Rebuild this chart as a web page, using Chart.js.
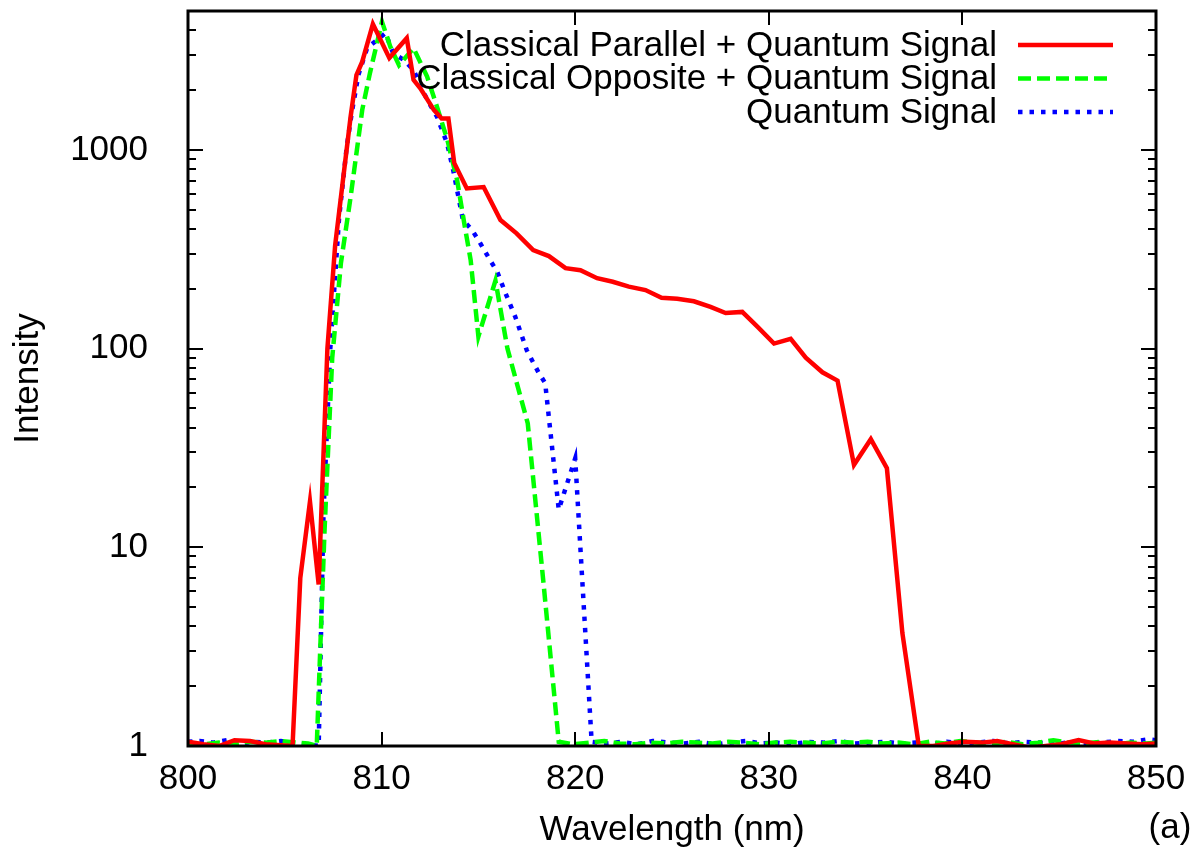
<!DOCTYPE html>
<html>
<head>
<meta charset="utf-8">
<script src="https://cdn.jsdelivr.net/npm/chart.js@4/dist/chart.umd.min.js"></script>
<style>
  html, body { margin: 0; padding: 0; background: #fff; }
  #wrap { width: 1202px; height: 851px; position: relative; }
</style>
</head>
<body>
<div id="wrap"><canvas id="spectrum"></canvas></div>
<script>
// Classical Parallel + Quantum Signal
const parallelNm = [800.0, 800.8, 801.6, 802.4, 803.2, 804.0, 804.8, 805.4, 805.8, 806.3, 806.75, 807.2, 807.6, 808.0, 808.4, 808.7, 809.0, 809.55, 810.4, 811.3, 811.65, 812.0, 812.7, 813.1, 813.45, 813.75, 814.4, 815.27, 816.14, 816.97, 817.83, 818.64, 819.5, 820.27, 821.13, 821.94, 822.77, 823.63, 824.46, 825.27, 826.13, 826.99, 827.77, 828.63, 829.41, 830.27, 831.13, 831.91, 832.77, 833.55, 834.4, 835.27, 836.1, 836.9, 837.75, 838.5, 839.3, 840.1, 841.0, 841.8, 842.6, 843.5, 844.3, 845.1, 846.0, 846.8, 847.6, 848.5, 849.3, 850.0];
const parallelI = [1.05, 1.02, 1.0, 1.07, 1.06, 1.02, 1.01, 1.0, 7, 17, 6.5, 100, 330, 700, 1470, 2380, 2780, 4300, 2900, 3650, 2250, 2040, 1590, 1440, 1440, 860, 640, 650, 444, 380, 313, 292, 254, 248, 226, 217, 205, 197, 180, 178, 173, 162, 151, 153, 129, 106, 112, 90, 76, 69, 26, 35, 25, 3.7, 1.0, 1.0, 1.03, 1.05, 1.04, 1.06, 1.02, 0.98, 1.0, 1.02, 1.07, 1.03, 1.04, 1.03, 1.02, 1.03];

// Classical Opposite + Quantum Signal
const oppositeNm = [800.0, 800.8, 801.6, 802.4, 803.2, 804.0, 804.8, 805.6, 806.2, 806.65, 807.05, 807.45, 807.9, 808.4, 809.0, 809.4, 810.02, 810.45, 810.9, 811.65, 812.35, 812.86, 813.4, 813.9, 814.3, 814.6, 815.0, 815.88, 816.5, 817.55, 818.35, 819.15, 819.9, 820.7, 821.5, 822.3, 823.1, 823.9, 824.7, 825.5, 826.3, 827.1, 827.9, 828.7, 829.5, 830.3, 831.1, 831.9, 832.7, 833.5, 834.3, 835.1, 835.9, 836.7, 837.5, 838.3, 839.1, 839.9, 840.7, 841.5, 842.3, 843.1, 843.9, 844.7, 845.5, 846.3, 847.1, 847.9, 848.7, 849.5, 850.0];
const oppositeI = [1.03, 1.02, 1.04, 1.03, 1.05, 1.04, 1.06, 1.04, 1.03, 1.0, 12, 90, 270, 580, 1590, 2440, 4420, 3310, 2670, 3250, 2340, 1650, 1120, 705, 410, 279, 115, 220, 100, 42, 6.8, 1.05, 1.02, 1.04, 1.06, 1.03, 1.02, 1.04, 1.03, 1.05, 1.04, 1.03, 1.05, 1.04, 1.02, 1.04, 1.05, 1.04, 1.03, 1.05, 1.04, 1.05, 1.03, 1.04, 1.02, 1.05, 1.03, 1.06, 1.04, 1.03, 1.05, 1.02, 1.04, 1.07, 1.04, 1.03, 1.05, 1.02, 1.04, 1.03, 1.04];

// Quantum Signal
const quantumNm = [800.0, 800.6, 801.3, 802.0, 802.7, 803.4, 804.1, 804.8, 805.5, 806.2, 806.75, 807.0, 807.35, 807.8, 808.2, 808.47, 808.8, 809.25, 809.76, 810.2, 810.6, 811.14, 811.65, 812.35, 812.86, 813.38, 813.7, 814.2, 814.67, 815.0, 815.6, 815.97, 816.4, 816.9, 817.5, 818.1, 818.45, 819.15, 820.0, 820.85, 821.6, 822.4, 823.2, 824.0, 824.8, 825.6, 826.4, 827.2, 828.0, 828.8, 829.6, 830.4, 831.2, 832.0, 832.8, 833.6, 834.4, 835.2, 836.0, 836.8, 837.6, 838.4, 839.2, 840.0, 840.8, 841.6, 842.4, 843.2, 844.0, 844.8, 845.6, 846.4, 847.2, 848.0, 848.8, 849.6, 850.0];
const quantumI = [1.05, 1.06, 1.04, 1.07, 1.03, 1.05, 1.04, 1.06, 1.03, 1.02, 1.0, 15, 100, 450, 1040, 1560, 2380, 3250, 3570, 3870, 3060, 2840, 2520, 1790, 1470, 1080, 790, 444, 395, 352, 279, 244, 190, 145, 98, 76, 67, 15.5, 28, 1.05, 1.03, 1.05, 1.02, 1.06, 1.04, 1.03, 1.05, 1.02, 1.04, 1.06, 1.03, 1.04, 1.02, 1.05, 1.04, 1.06, 1.03, 1.04, 1.05, 1.03, 1.04, 1.02, 1.05, 1.03, 1.04, 1.06, 1.03, 1.05, 1.04, 1.02, 1.05, 1.03, 1.04, 1.06, 1.05, 1.08, 1.07];

const seriesLabels = ['Classical Parallel + Quantum Signal', 'Classical Opposite + Quantum Signal', 'Quantum Signal'];
const xTicks = [800, 810, 820, 830, 840, 850];
const yTicks = [1, 10, 100, 1000];

const FONT = "'Liberation Sans', Arial, Helvetica, sans-serif";
const FONT_SIZE = 35;

function points(xs, ys) {
    return xs.map((x, i) => ({ x: x, y: ys[i] }));
}

// gnuplot style frame, inward ticks, key and panel tag
const gnuplotDecor = {
    id: 'gnuplotDecor',
    afterDraw(chart) {
        const ctx = chart.ctx;
        const area = chart.chartArea;
        const xs = chart.scales.x;
        const ys = chart.scales.y;
        ctx.save();
        ctx.strokeStyle = '#000';
        ctx.lineCap = 'butt';

        // ticks
        ctx.lineWidth = 2;
        ctx.beginPath();
        xTicks.forEach(v => {
            const px = Math.round(xs.getPixelForValue(v));
            ctx.moveTo(px, area.bottom); ctx.lineTo(px, area.bottom - 14);
            ctx.moveTo(px, area.top); ctx.lineTo(px, area.top + 14);
        });
        for (let d = 1; d <= 1000; d *= 10) {
            for (let m = 1; m <= 9; m++) {
                const v = d * m;
                if (v > ys.max) break;
                const py = Math.round(ys.getPixelForValue(v));
                const len = m === 1 ? 15 : 8;
                ctx.moveTo(area.left, py); ctx.lineTo(area.left + len, py);
                ctx.moveTo(area.right, py); ctx.lineTo(area.right - len, py);
            }
        }
        ctx.stroke();

        // frame
        ctx.lineWidth = 3;
        ctx.strokeRect(area.left, area.top, area.right - area.left, area.bottom - area.top);

        // key
        ctx.font = FONT_SIZE + 'px ' + FONT;
        ctx.fillStyle = '#000';
        ctx.textAlign = 'right';
        ctx.textBaseline = 'middle';
        chart.data.datasets.forEach((ds, i) => {
            const y = 45 + i * 33.5;
            ctx.fillText(ds.label, 997, y + 1);
            ctx.save();
            ctx.strokeStyle = ds.borderColor;
            ctx.lineWidth = ds.borderWidth;
            ctx.setLineDash(ds.borderDash || []);
            ctx.beginPath();
            ctx.moveTo(1018, y);
            ctx.lineTo(1113, y);
            ctx.stroke();
            ctx.restore();
        });

        ctx.textAlign = 'center';
        ctx.fillText('(a)', 1170, 828);
        ctx.restore();
    }
};

const ctx = document.getElementById('spectrum').getContext('2d');
new Chart(ctx, {
    type: 'line',
    data: {
        datasets: [
            {
                label: seriesLabels[0],
                data: points(parallelNm, parallelI),
                borderColor: '#ff0000',
                borderWidth: 4.5,
                pointRadius: 0,
                tension: 0
            },
            {
                label: seriesLabels[1],
                data: points(oppositeNm, oppositeI),
                borderColor: '#00ff00',
                borderWidth: 4.5,
                borderDash: [13, 6],
                pointRadius: 0,
                tension: 0
            },
            {
                label: seriesLabels[2],
                data: points(quantumNm, quantumI),
                borderColor: '#0000ff',
                borderWidth: 4.5,
                borderDash: [4.5, 7],
                pointRadius: 0,
                tension: 0
            }
        ]
    },
    options: {
        responsive: true,
        maintainAspectRatio: false,
        animation: false,
        layout: { padding: { top: 11, right: 46, left: 0, bottom: 0 } },
        plugins: {
            legend: { display: false },
            tooltip: { enabled: false }
        },
        scales: {
            x: {
                type: 'linear',
                min: 800,
                max: 850,
                afterBuildTicks: scale => { scale.ticks = xTicks.map(v => ({ value: v })); },
                afterFit: scale => {
                    scale.height = 105;
                    scale.paddingLeft = 0;
                    scale.paddingRight = 0;
                },
                ticks: {
                    color: '#000',
                    font: { family: FONT, size: FONT_SIZE },
                    padding: 12,
                    maxRotation: 0
                },
                grid: { display: false, drawTicks: false },
                border: { display: false },
                title: {
                    display: true,
                    text: 'Wavelength (nm)',
                    color: '#000',
                    font: { family: FONT, size: FONT_SIZE },
                    padding: { top: 0, bottom: 0 }
                }
            },
            y: {
                type: 'logarithmic',
                min: 1,
                max: 5000,
                afterBuildTicks: scale => { scale.ticks = yTicks.map(v => ({ value: v })); },
                afterFit: scale => {
                    scale.width = 188;
                    scale.paddingTop = 0;
                    scale.paddingBottom = 0;
                },
                ticks: {
                    color: '#000',
                    font: { family: FONT, size: FONT_SIZE },
                    padding: 40,
                    callback: v => String(v)
                },
                grid: { display: false, drawTicks: false },
                border: { display: false },
                title: {
                    display: true,
                    text: 'Intensity',
                    color: '#000',
                    font: { family: FONT, size: FONT_SIZE },
                    padding: { top: 7, bottom: 0 }
                }
            }
        }
    },
    plugins: [gnuplotDecor]
});
</script>
</body>
</html>
